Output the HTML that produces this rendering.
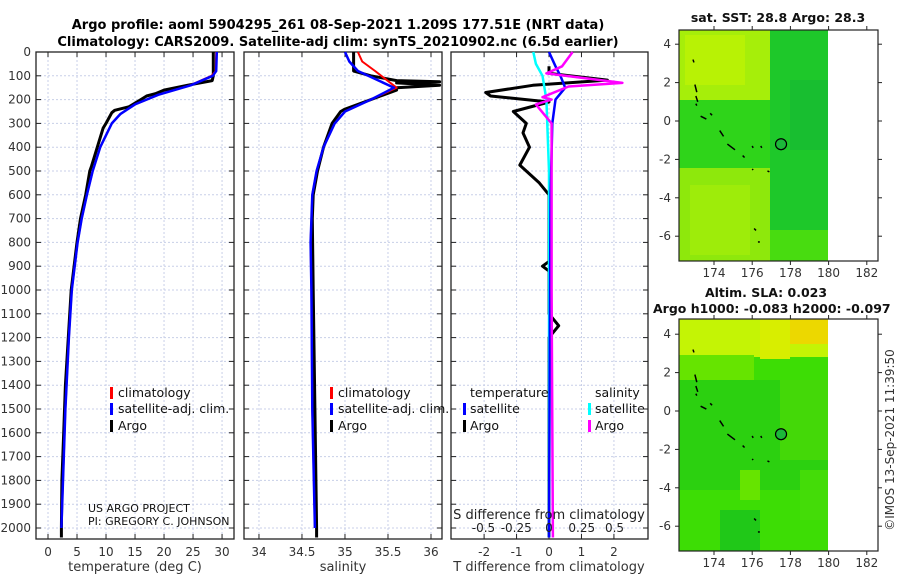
<!DOCTYPE html>
<html><head><meta charset="utf-8"><style>
body{margin:0;background:#fff;width:900px;height:580px;overflow:hidden}
svg{font-family:"DejaVu Sans","Liberation Sans",sans-serif}
</style></head><body>
<svg id="s" width="900" height="580" xmlns="http://www.w3.org/2000/svg">
<text x="338" y="29" font-size="13" font-weight="bold" text-anchor="middle">Argo profile: aoml 5904295_261 08-Sep-2021 1.209S 177.51E (NRT data)</text>
<text x="338" y="46" font-size="13" font-weight="bold" text-anchor="middle">Climatology: CARS2009. Satellite-adj clim: synTS_20210902.nc (6.5d earlier)</text>
<g id="g"></g>
</svg>
<script>
// ---------- data ----------
const depthTicks=[0,100,200,300,400,500,600,700,800,900,1000,1100,1200,1300,1400,1500,1600,1700,1800,1900,2000];
const tempTicks=[0,5,10,15,20,25,30];
const salTicks=[34,34.5,35,35.5,36];
const tdTicks=[-2,-1,0,1,2];
const sdTicks=[-0.5,-0.25,0,0.25,0.5];
const sdTickLabels=["-0.5","-0.25","0","0.25","0.5"];

const argoTD=[0,100,120,140,160,175,185,200,230,245,255,300,320,400,480,500,600,700,800,900,1000,1200,1400,1600,1800,2000,2040];
const argoT=[28.5,28.5,28.3,24,20,18.5,17,16,14,11.5,11,10,9.5,8.5,7.5,7.2,6.5,5.6,5,4.5,4,3.5,3,2.7,2.4,2.3,2.3];
const climTD=[0,80,100,140,180,220,260,300,400,500,600,700,800,1000,1200,1500,2000];
const climT=[29,28.9,28.2,24.5,19,15,12.5,11,9,7.7,6.7,5.8,5.1,4.1,3.6,3,2.3];
const satT=[29.1,29,28.4,24.6,19,15,12.5,11,9,7.7,6.7,5.8,5.1,4.1,3.6,3,2.3];

const argoSD=[0,80,100,110,120,125,130,140,150,160,180,200,240,250,300,400,500,600,700,1000,1500,2000,2040];
const argoS=[35.1,35.1,35.3,35.45,35.6,36.1,35.6,36.1,35.6,35.6,35.45,35.3,35.0,34.95,34.85,34.75,34.68,34.63,34.62,34.63,34.65,34.67,34.67];
const climSD=[0,40,80,150,200,250,300,400,500,600,800,1000,1500,2000];
const climS=[35.15,35.2,35.35,35.6,35.3,35.0,34.88,34.75,34.67,34.62,34.6,34.61,34.62,34.65];
const satS=[35.0,35.05,35.15,35.57,35.3,35.0,34.88,34.75,34.67,34.62,34.6,34.61,34.62,34.65];

const tdD=[60,90,118,140,170,185,210,250,300,340,400,475,550,600,880,900,920,1100,1150,1200,1500,2040];
const tdArgo=[0,0,1.8,-0.5,-1.95,-1.8,0,-1.1,-0.7,-0.8,-0.6,-0.9,-0.3,0,0,-0.2,0,0,0.3,0,0,0];
const tdSatD=[0,60,100,150,200,300,600,1000,2040];
const tdSat=[0,0.2,0.35,0.5,0.2,0.1,0.05,0.03,0];
const sdD=[0,60,90,130,145,190,200,220,300,600,1000,2040];
const sdArgo=[0.18,0.1,-0.02,0.56,0.15,-0.05,0.02,-0.1,0.02,0.02,0.02,0.03];
const sdSatD=[0,50,100,200,500,2040];
const sdSat=[-0.12,-0.1,-0.05,-0.02,0,0];

const lonTicks=[174,176,178,180,182];
const latTicks=[4,2,0,-2,-4,-6];

// ---------- helpers ----------
const NS="http://www.w3.org/2000/svg", G=document.getElementById('g');
function el(t,a,p){const e=document.createElementNS(NS,t);for(const k in a)e.setAttribute(k,a[k]);(p||G).appendChild(e);return e;}
const yD=d=>52+d*0.238;
function panel(x0,x1,xmin,xmax,ticks,labels,name){
  const X=v=>x0+(v-xmin)/(xmax-xmin)*(x1-x0);
  const g=el('g',{});
  
  
  depthTicks.forEach(d=>{const l=el('line',{x1:x0,x2:x1,y1:yD(d),y2:yD(d),stroke:'#c8cfe8','stroke-dasharray':'2,2','stroke-width':1},g);
    
    el('line',{x1:x0,x2:x0+5,y1:yD(d),y2:yD(d),stroke:'#222'},g);el('line',{x1:x1-5,x2:x1,y1:yD(d),y2:yD(d),stroke:'#222'},g);});
  ticks.forEach((t,i)=>{const l=el('line',{x1:X(t),x2:X(t),y1:52,y2:539,stroke:'#c8cfe8','stroke-dasharray':'2,2'},g);
    
    el('line',{x1:X(t),x2:X(t),y1:539,y2:534,stroke:'#222'},g);el('line',{x1:X(t),x2:X(t),y1:52,y2:57,stroke:'#222'},g);
    if(labels){const tx=el('text',{x:X(t),y:556,'font-size':12,'text-anchor':'middle',fill:'#333'},g);tx.textContent=labels[i];
      }});
  const r=el('rect',{x:x0,y:52,width:x1-x0,height:487,fill:'none',stroke:'#222','stroke-width':1.3},g);
  
  return {X,g};
}
function line(p,vals,ds,color,w,name){
  const pts=vals.map((v,i)=>p.X(v).toFixed(1)+','+yD(ds[i]).toFixed(1)).join(' ');
  const l=el('polyline',{points:pts,fill:'none',stroke:color,'stroke-width':w,'stroke-linejoin':'round'},p.g);
  
}
function text(x,y,s,sz,name,extra){const t=el('text',Object.assign({x:x,y:y,'font-size':sz,fill:'#111'},extra||{}));t.textContent=s;
  return t;}
function legendMark(x,y,c){const r=el('rect',{x:x,y:y-10,width:3,height:12,fill:c});}

// depth labels
depthTicks.forEach(d=>{text(31,yD(d)+4,String(d),12,'y-tick-label',{'text-anchor':'end',fill:'#333'});});

// panel 1
const p1=panel(36,234,-2.07,32.06,tempTicks,tempTicks.map(String),'temperature-panel');
line(p1,argoT,argoTD,'#000',3,'argo-temperature-line');
line(p1,climT,climTD,'#f00',2,'climatology-temperature-line');
line(p1,satT,climTD,'#00f',2.5,'satellite-temperature-line');
text(135,571,'temperature (deg C)',13,'x-axis-title',{'text-anchor':'middle',fill:'#333'});
legendMark(110,397,'#f00');text(118,397,'climatology',12.5,'legend-entry');
legendMark(110,413,'#00f');text(118,413,'satellite-adj. clim.',12.5,'legend-entry');
legendMark(110,430,'#000');text(118,430,'Argo',12.5,'legend-entry');
text(88,512,'US ARGO PROJECT',11,'credit-line-1');
text(88,525,'PI: GREGORY C. JOHNSON',11,'credit-line-2');

// panel 2
const p2=panel(244,442,33.826,36.128,salTicks,salTicks.map(String),'salinity-panel');
line(p2,argoS,argoSD,'#000',3,'argo-salinity-line');
line(p2,climS,climSD,'#f00',2,'climatology-salinity-line');
line(p2,satS,climSD,'#00f',2.5,'satellite-salinity-line');
text(343,571,'salinity',13,'x-axis-title',{'text-anchor':'middle',fill:'#333'});
legendMark(330,397,'#f00');text(338,397,'climatology',12.5,'legend-entry');
legendMark(330,413,'#00f');text(338,413,'satellite-adj. clim.',12.5,'legend-entry');
legendMark(330,430,'#000');text(338,430,'Argo',12.5,'legend-entry');

// panel 3
const p3=panel(451,648,-3.02,3.05,tdTicks,tdTicks.map(String),'difference-panel');
const p3s={X:v=>549+v*131,g:p3.g};
line(p3,tdArgo,tdD,'#000',3,'argo-temperature-diff-line');
line(p3s,sdSat,sdSatD,'#0ff',2.5,'satellite-salinity-diff-line');
line(p3,tdSat,tdSatD,'#00f',2.5,'satellite-temperature-diff-line');
line(p3s,sdArgo,sdD,'#f0f',2.5,'argo-salinity-diff-line');
sdTicks.forEach((t,i)=>text(p3s.X(t),532,sdTickLabels[i],12,'s-tick-label',{'text-anchor':'middle',fill:'#222'}));
text(549,519,'S difference from climatology',13,'s-axis-title',{'text-anchor':'middle',fill:'#222'});
text(549,571,'T difference from climatology',13,'x-axis-title',{'text-anchor':'middle',fill:'#333'});
text(470,397,'temperature',12.5,'legend-header');text(595,397,'salinity',12.5,'legend-header');
legendMark(463,413,'#00f');text(470,413,'satellite',12.5,'legend-entry');
legendMark(463,430,'#000');text(470,430,'Argo',12.5,'legend-entry');
legendMark(588,413,'#0ff');text(595,413,'satellite',12.5,'legend-entry');
legendMark(588,430,'#f0f');text(595,430,'Argo',12.5,'legend-entry');

// ---------- maps ----------
const coast=[[172.9,3.2,172.95,3.05],[173.0,1.9,173.1,1.5],[173.05,1.3,173.15,1.0],[173.05,0.9,173.1,0.8],[173.3,0.25,173.6,0.1],[173.8,0.4,173.9,0.3],[174.3,-0.5,174.5,-0.8],[174.7,-1.2,175.1,-1.5],[175.5,-1.8,175.6,-1.9],[176,-1.3,176.05,-1.4],[176.45,-1.3,176.5,-1.4],[176,-2.5,176.05,-2.55],[176.8,-2.6,176.9,-2.65],[176.1,-5.6,176.2,-5.7],[176.3,-6.3,176.4,-6.3]];
function map(y0,y1,lat0y,blobs,name){
  const lx=v=>714+(v-174)*19.1, ly=v=>lat0y-v*19.2;
  const g=el('g',{});
  
  blobs.forEach(b=>{const r=el('rect',{x:b[0],y:b[1],width:b[2],height:b[3],fill:b[4]},g);});
  coast.forEach(c=>{const l=el('line',{x1:lx(c[0]),y1:ly(c[1]),x2:lx(c[2]),y2:ly(c[3]),stroke:'#000','stroke-width':1.5},g);});
  const c=el('circle',{cx:lx(177.51),cy:ly(-1.209),r:5.5,fill:'#1cb83a',stroke:'#000','stroke-width':1.2},g);
  
  const f=el('rect',{x:679,y:y0,width:199,height:y1-y0,fill:'none',stroke:'#222','stroke-width':1.2},g);
  
  lonTicks.forEach(t=>{el('line',{x1:lx(t),x2:lx(t),y1:y1,y2:y1+4,stroke:'#222'},g);el('line',{x1:lx(t),x2:lx(t),y1:y0,y2:y0-4,stroke:'#222'},g);
    text(lx(t),y1+16,String(t),12,'lon-tick-label',{'text-anchor':'middle',fill:'#333'});});
  latTicks.forEach(t=>{el('line',{x1:675,x2:679,y1:ly(t),y2:ly(t),stroke:'#222'},g);el('line',{x1:878,x2:882,y1:ly(t),y2:ly(t),stroke:'#222'},g);
    text(671,ly(t)+4,String(t),12,'lat-tick-label',{'text-anchor':'end',fill:'#333'});});
}
map(30,261,121,[
 [679,30,149,231,'#5ee40c'],
 [679,30,95,70,'#a6ee0a'],[685,35,60,50,'#b8f205'],
 [679,100,149,68,'#2fd41a'],[770,30,58,200,'#1ec82a'],[790,80,38,70,'#18be30'],
 [679,168,91,93,'#8ee80c'],[690,185,60,70,'#9eec0a'],[770,230,58,31,'#48dc10']
],'sst-map');
map(319,551,411,[
 [679,319,149,232,'#3ddd05'],
 [679,319,149,38,'#c4f405'],[790,319,38,25,'#ecd800'],[760,319,30,40,'#d8ee00'],
 [679,355,75,25,'#66e400'],[679,380,149,110,'#2cd010'],[780,380,48,80,'#44d808'],
 [720,510,40,41,'#20c818'],[740,470,20,30,'#66e400'],[800,470,28,50,'#44dc08']
],'sla-map');
text(778,22,'sat. SST: 28.8 Argo: 28.3',12.5,'sst-map-title',{'text-anchor':'middle','font-weight':'bold'});
text(766,297,'Altim. SLA: 0.023',12.5,'sla-map-title',{'text-anchor':'middle','font-weight':'bold'});
text(653,313,'Argo h1000: -0.083 h2000: -0.097',12.5,'sla-map-subtitle',{'font-weight':'bold'});
text(0,0,'©IMOS 13-Sep-2021 11:39:50',12,'timestamp',{'text-anchor':'middle',fill:'#333',transform:'translate(894,440) rotate(-90)'});
</script>
</body></html>
